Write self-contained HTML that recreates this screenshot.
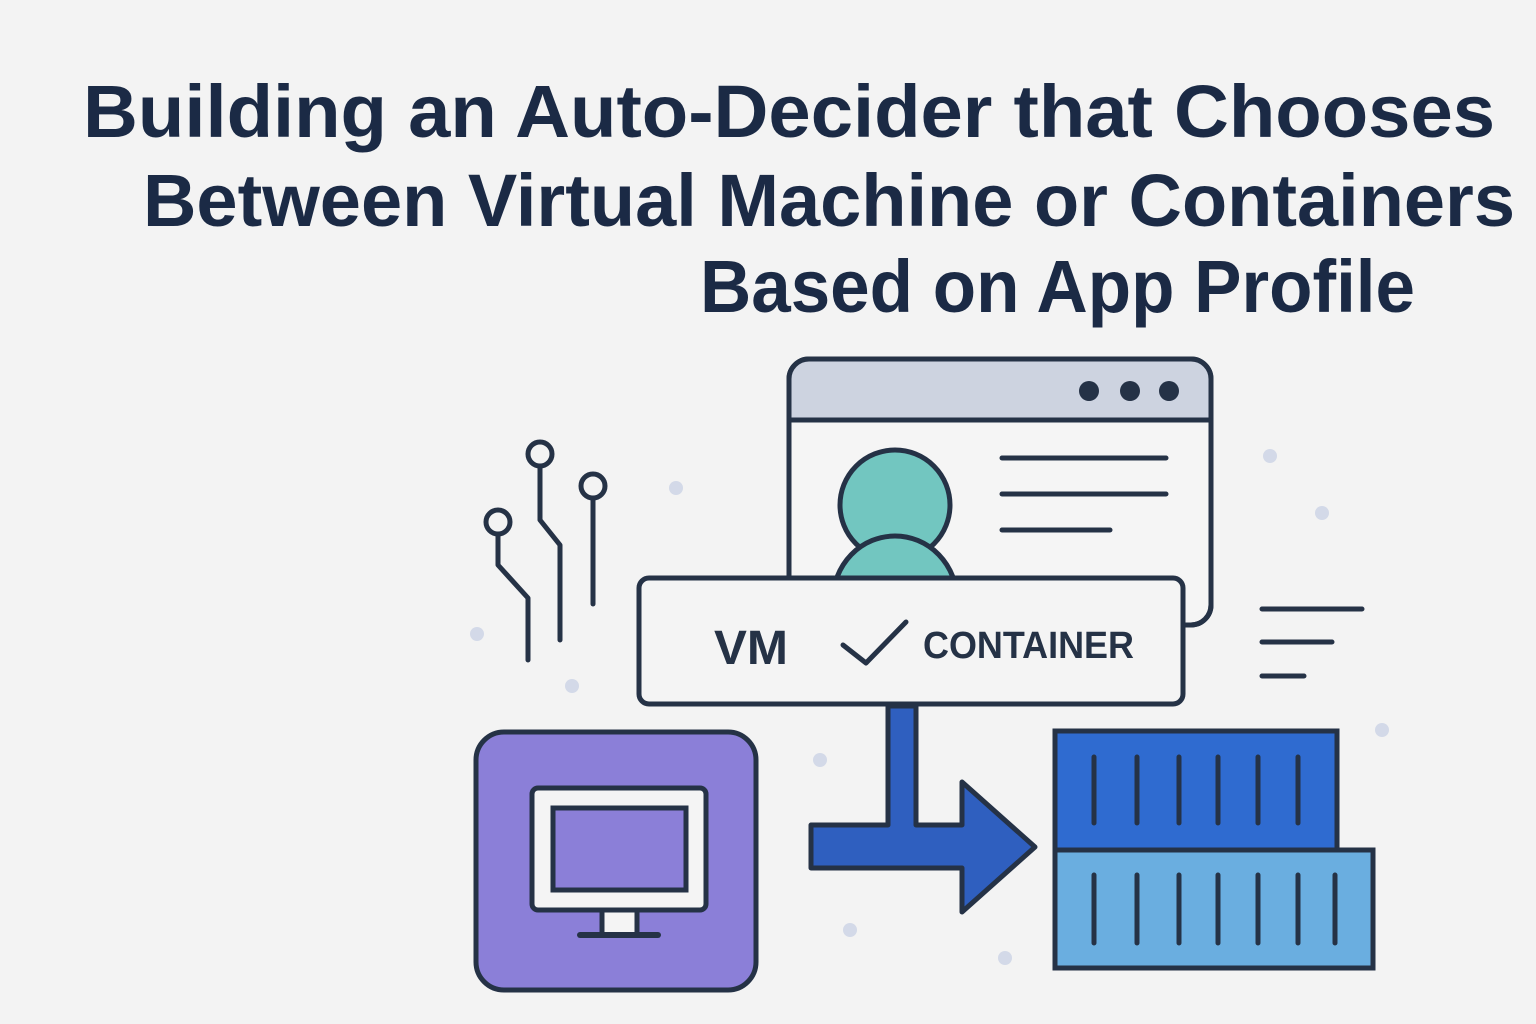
<!DOCTYPE html>
<html><head><meta charset="utf-8"><style>
html,body{margin:0;padding:0;background:#f3f3f3;}
svg{display:block;}
</style></head><body>
<svg width="1536" height="1024" viewBox="0 0 1536 1024" xmlns="http://www.w3.org/2000/svg">
<rect width="1536" height="1024" fill="#f3f3f3"/>
<g font-family="Liberation Sans, sans-serif" font-weight="bold" fill="#1b2a45" font-size="74">
<text x="83" y="137" textLength="1412" lengthAdjust="spacingAndGlyphs">Building an Auto-Decider that Chooses</text>
<text x="143" y="226" textLength="1372" lengthAdjust="spacingAndGlyphs">Between Virtual Machine or Containers</text>
<text x="700" y="312" textLength="715" lengthAdjust="spacingAndGlyphs">Based on App Profile</text>
</g>
<g fill="#d3d9e8">
<circle cx="676" cy="488" r="7"/><circle cx="477" cy="634" r="7"/><circle cx="572" cy="686" r="7"/>
<circle cx="1270" cy="456" r="7"/><circle cx="1322" cy="513" r="7"/><circle cx="820" cy="760" r="7"/>
<circle cx="850" cy="930" r="7"/><circle cx="1005" cy="958" r="7"/><circle cx="1382" cy="730" r="7"/>
</g>
<g stroke="#253246" stroke-width="5" fill="none" stroke-linecap="round" stroke-linejoin="round">
<!-- circuit -->
<circle cx="540" cy="454" r="12"/><path d="M540 466 V520 L560 545 V640"/>
<circle cx="593" cy="486" r="12"/><path d="M593 498 V604"/>
<circle cx="498" cy="522" r="12"/><path d="M498 534 V565 L528 598 V660"/>
<!-- browser -->
<rect x="789" y="359" width="422" height="266" rx="20" fill="#f5f5f5"/>
<path d="M791 420 V378 Q791 361 808 361 H1192 Q1209 361 1209 378 V420 Z" fill="#cdd3e0" stroke="none"/>
<rect x="789" y="359" width="422" height="266" rx="20"/>
<line x1="791" y1="420" x2="1209" y2="420"/>
<line x1="1002" y1="458" x2="1166" y2="458"/>
<line x1="1002" y1="494" x2="1166" y2="494"/>
<line x1="1002" y1="530" x2="1110" y2="530"/>
<ellipse cx="895" cy="505" rx="55" ry="55" fill="#72c6c0"/>
<ellipse cx="895" cy="600" rx="62" ry="64" fill="#72c6c0"/>
</g>
<g fill="#253246"><circle cx="1089" cy="391" r="10"/><circle cx="1130" cy="391" r="10"/><circle cx="1169" cy="391" r="10"/></g>
<!-- decision -->
<rect x="639" y="578" width="544" height="126" rx="10" fill="#f4f4f4" stroke="#253246" stroke-width="5"/>
<g font-family="Liberation Sans, sans-serif" font-weight="bold" fill="#253246">
<text x="714" y="664" font-size="48" textLength="74" lengthAdjust="spacingAndGlyphs">VM</text>
<text x="923" y="658" font-size="38" textLength="211" lengthAdjust="spacingAndGlyphs">CONTAINER</text>
</g>
<path d="M843 645 L866 663 L906 622" stroke="#253246" stroke-width="5" fill="none" stroke-linecap="round" stroke-linejoin="round"/>
<!-- arrow -->
<path d="M888 706 V825 H811 V868 H962 V912 L1035 847 L962 782 V825 H916 V706 Z" fill="#2f5fbf" stroke="#253246" stroke-width="5" stroke-linejoin="round"/>
<!-- VM box -->
<rect x="476" y="732" width="280" height="258" rx="28" fill="#8b7fd8" stroke="#253246" stroke-width="5"/>
<rect x="532" y="788" width="174" height="122" rx="6" fill="#f4f4f4" stroke="#253246" stroke-width="5"/>
<rect x="553" y="808" width="133" height="82" fill="#8b7fd8" stroke="#253246" stroke-width="5"/>
<rect x="602" y="910" width="35" height="25" fill="#f4f4f4" stroke="#253246" stroke-width="5"/>
<line x1="580" y1="935" x2="658" y2="935" stroke="#253246" stroke-width="6" stroke-linecap="round"/>
<!-- containers -->
<rect x="1055" y="731" width="282" height="119" fill="#2f6bd0" stroke="#253246" stroke-width="5"/>
<rect x="1055" y="850" width="318" height="118" fill="#6aaee0" stroke="#253246" stroke-width="5"/>
<g stroke="#253246" stroke-width="5" stroke-linecap="round">
<path d="M1094 757V823M1137 757V823M1179 757V823M1218 757V823M1258 757V823M1298 757V823"/>
<path d="M1094 875V943M1137 875V943M1179 875V943M1218 875V943M1258 875V943M1298 875V943M1335 875V943"/>
<path d="M1262 609H1362M1262 642H1332M1262 676H1304"/>
</g>
</svg>
</body></html>
